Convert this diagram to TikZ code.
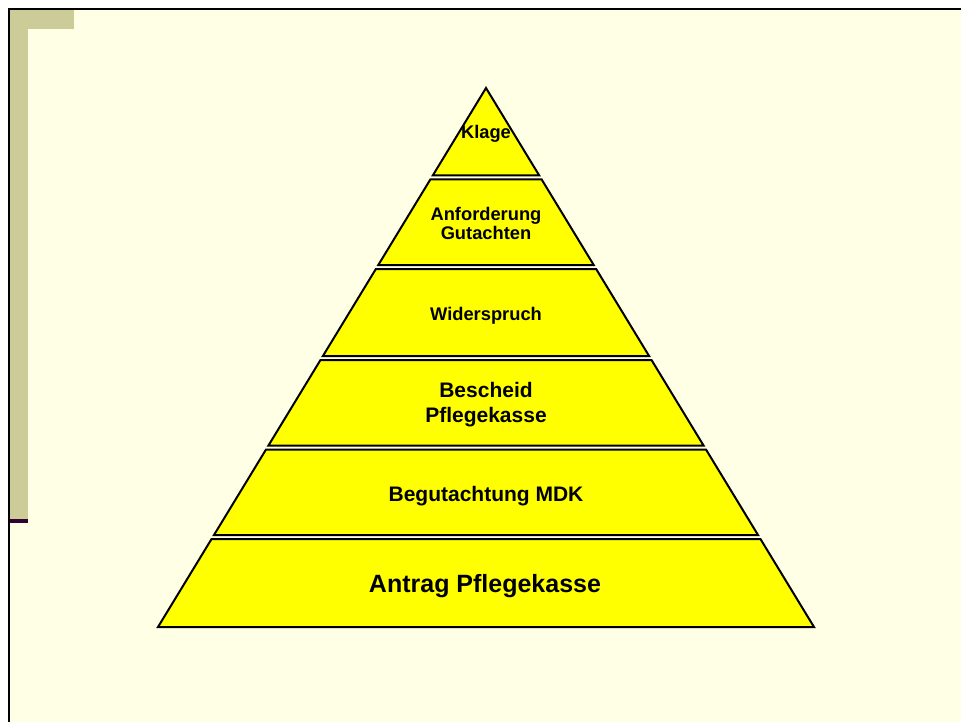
\documentclass[tikz,border=0pt]{standalone}
\usepackage{fontspec}
\setmainfont{Liberation Sans}
\definecolor{slidebg}{HTML}{FFFFE5}
\definecolor{accentolive}{HTML}{CCCC99}
\definecolor{accentplum}{HTML}{330033}
\definecolor{tierfill}{HTML}{FFFF00}
\begin{document}
\begin{tikzpicture}[x=1pt,y=-1pt,
  tier/.style={fill=tierfill,draw=black,line width=2pt,line join=miter},
  tierlabel/.style={inner sep=0pt,align=center,text=black},
  small/.style={font=\bfseries\fontsize{18.3}{19}\selectfont},
  medium/.style={font=\bfseries\fontsize{21}{25}\selectfont},
  large/.style={font=\bfseries\fontsize{25}{28}\selectfont}]
\useasboundingbox (0,0) rectangle (961,722);
% slide background and frame
\fill[white] (0,0) rectangle (961,722);
\fill[slidebg] (9,9) rectangle (961,722);
\fill[accentolive] (10,10) rectangle (28,518.5);
\fill[accentolive] (10,10) rectangle (74,29);
\fill[accentplum] (10,518.5) rectangle (28,523);
\draw[line width=2pt] (9,722) -- (9,9) -- (961,9);
% pyramid tiers, apex (486,88), base half-width 328 at y=627 (slope 328/539)
\foreach \t/\b in {88/175.5, 179.5/265, 269/356, 360/445.5, 449.5/535, 539/627}{
  \pgfmathsetmacro\lt{486-0.60853*(\t-88)}
  \pgfmathsetmacro\rt{972-\lt}
  \pgfmathsetmacro\lb{486-0.60853*(\b-88)}
  \pgfmathsetmacro\rb{972-\lb}
  \draw[tier] (\lt,\t) -- (\rt,\t) -- (\rb,\b) -- (\lb,\b) -- cycle;
}
% tier labels
\node[tierlabel,small,anchor=base] (klage) at (486,139) {Klage};
\node[tierlabel,small] (gutachten) at (486,223) {Anforderung\\Gutachten};
\node[tierlabel,small,anchor=base] (widerspruch) at (486,320) {Widerspruch};
\node[tierlabel,medium] (bescheid) at (486,405) {Bescheid\\Pflegekasse};
\node[tierlabel,medium,anchor=base] (mdk) at (486,501) {Begutachtung MDK};
\node[tierlabel,large,anchor=base] (antrag) at (485,592) {Antrag Pflegekasse};
\end{tikzpicture}
\end{document}
